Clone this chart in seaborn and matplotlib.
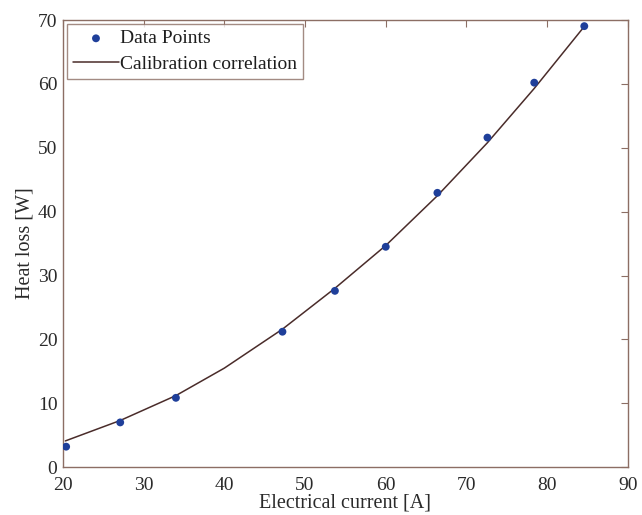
import matplotlib
matplotlib.use("Agg")
import matplotlib.pyplot as plt
import seaborn as sns
import pandas as pd

# Measured calibration points
current = [20.4, 27.1, 34.0, 47.2, 53.7, 60.0, 66.4, 72.6, 78.4, 84.6]
heat_loss = [3.2, 7.0, 10.85, 21.2, 27.6, 34.5, 42.95, 51.6, 60.2, 69.05]

# Calibration correlation curve
fit_current = [20.3, 27.1, 34.0, 40.0, 47.2, 53.7, 60.0, 66.4, 72.6, 78.4, 84.6]
fit_heat = [4.1, 7.3, 11.2, 15.5, 21.6, 28.0, 34.7, 42.5, 50.8, 59.3, 69.0]

x_ticks = [20, 30, 40, 50, 60, 70, 80, 90]
y_ticks = [0, 10, 20, 30, 40, 50, 60, 70]

sns.set_theme(style="white")
plt.rcParams["font.family"] = ["Liberation Serif", "DejaVu Serif"]
spine_col = "#8c6e64"

pts = pd.DataFrame({"I": current, "Q": heat_loss})
fit = pd.DataFrame({"I": fit_current, "Q": fit_heat})

fig = plt.figure(figsize=(6.42, 5.15), dpi=100)
ax = fig.add_axes([0.098, 0.093, 0.880, 0.868])

sns.lineplot(data=fit, x="I", y="Q", ax=ax, color="#4a2c2a", linewidth=1.1,
             label="Calibration correlation", sort=True)
sns.scatterplot(data=pts, x="I", y="Q", ax=ax, color="#1f3f9a", s=32,
                edgecolor="none", label="Data Points", zorder=3)

ax.set_xlim(20, 90)
ax.set_ylim(0, 70)
ax.set_xticks(x_ticks)
ax.set_yticks(y_ticks)
ax.set_xlabel("Electrical current [A]", fontsize=14.5, color="#2a2a2a", labelpad=0)
ax.set_ylabel("Heat loss [W]", fontsize=14.5, color="#2a2a2a", labelpad=2)
ax.tick_params(direction="in", top=True, right=True, length=5, width=0.8,
               color=spine_col, labelsize=14, labelcolor="#2a2a2a")
ax.tick_params(axis="x", pad=7)
ax.tick_params(axis="y", pad=4)
for s in ax.spines.values():
    s.set_color(spine_col)
    s.set_linewidth(1.0)

handles, labels = ax.get_legend_handles_labels()
order = [labels.index("Data Points"), labels.index("Calibration correlation")]
leg = ax.legend([handles[i] for i in order], [labels[i] for i in order],
                loc="upper left", fontsize=14, frameon=True, fancybox=False,
                borderaxespad=0.2, handlelength=2.4, handletextpad=0.05,
                borderpad=0.3, labelspacing=0.4)
leg.get_frame().set_edgecolor(spine_col)
leg.get_frame().set_linewidth(1.0)
for t in leg.get_texts():
    t.set_color("#1e1e1e")

fig.savefig("out.png", dpi=100)
